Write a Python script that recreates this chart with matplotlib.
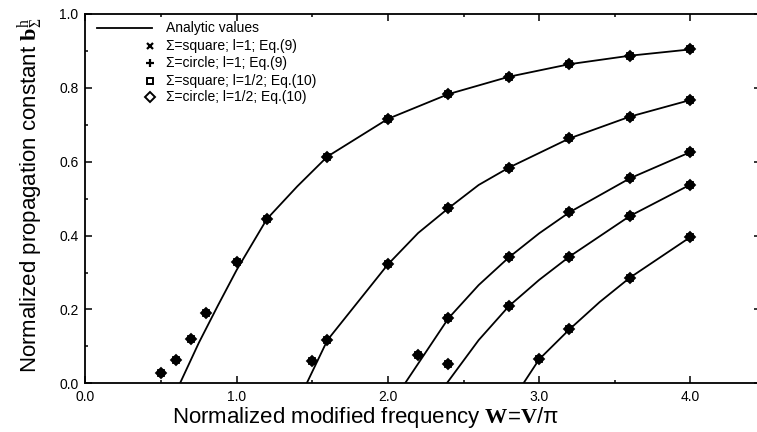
import matplotlib
matplotlib.use("Agg")
import matplotlib.pyplot as plt
from matplotlib.ticker import MultipleLocator, FormatStrFormatter

plt.rcParams['font.family'] = ['Liberation Sans', 'DejaVu Sans']
plt.rcParams['mathtext.fontset'] = 'custom'
plt.rcParams['mathtext.rm'] = 'Liberation Serif'
plt.rcParams['mathtext.bf'] = 'Liberation Serif:bold'
plt.rcParams['mathtext.it'] = 'Liberation Serif:italic'

# ---- analytic curves (W, b) ----
ana1_w = [0.625, 0.75, 0.875, 1.0, 1.2, 1.4, 1.6, 2.0, 2.4, 2.8, 3.2, 3.6, 4.0]
ana1_b = [0.0, 0.11, 0.21, 0.307, 0.445, 0.533, 0.614, 0.716, 0.783, 0.830, 0.864, 0.887, 0.904]
ana2_w = [1.463, 1.6, 2.0, 2.2, 2.4, 2.6, 2.8, 3.2, 3.6, 4.0]
ana2_b = [0.0, 0.117, 0.322, 0.407, 0.474, 0.537, 0.584, 0.663, 0.722, 0.767]
ana3_w = [2.113, 2.4, 2.6, 2.8, 3.0, 3.2, 3.6, 4.0]
ana3_b = [0.0, 0.176, 0.266, 0.341, 0.406, 0.463, 0.555, 0.626]
ana4_w = [2.389, 2.6, 2.8, 3.0, 3.2, 3.6, 4.0]
ana4_b = [0.0, 0.117, 0.209, 0.28, 0.343, 0.453, 0.538]
ana5_w = [2.896, 3.0, 3.2, 3.4, 3.6, 4.0]
ana5_b = [0.0, 0.065, 0.146, 0.22, 0.286, 0.396]

# ---- numerical values (all four methods coincide) ----
num1_w = [0.5, 0.6, 0.7, 0.8, 1.0, 1.2, 1.6, 2.0, 2.4, 2.8, 3.2, 3.6, 4.0]
num1_b = [0.027, 0.063, 0.12, 0.19, 0.328, 0.445, 0.614, 0.716, 0.783, 0.830, 0.864, 0.887, 0.904]
num2_w = [1.5, 1.6, 2.0, 2.4, 2.8, 3.2, 3.6, 4.0]
num2_b = [0.061, 0.117, 0.322, 0.474, 0.584, 0.663, 0.722, 0.767]
num3_w = [2.2, 2.4, 2.8, 3.2, 3.6, 4.0]
num3_b = [0.078, 0.176, 0.342, 0.463, 0.555, 0.626]
num4_w = [2.4, 2.8, 3.2, 3.6, 4.0]
num4_b = [0.052, 0.209, 0.343, 0.453, 0.538]
num5_w = [3.0, 3.2, 3.6, 4.0]
num5_b = [0.065, 0.146, 0.286, 0.396]

legend_labels = ["Analytic values",
                 "\u03a3=square; l=1; Eq.(9)",
                 "\u03a3=circle; l=1; Eq.(9)",
                 "\u03a3=square; l=1/2; Eq.(10)",
                 "\u03a3=circle; l=1/2; Eq.(10)"]

fig = plt.figure(figsize=(7.57, 4.32), dpi=100)
ax = fig.add_axes([0.1129, 0.1127, 0.893, 0.855])

analytic = [(ana1_w, ana1_b), (ana2_w, ana2_b), (ana3_w, ana3_b), (ana4_w, ana4_b), (ana5_w, ana5_b)]
numeric = [(num1_w, num1_b), (num2_w, num2_b), (num3_w, num3_b), (num4_w, num4_b), (num5_w, num5_b)]

for w, b in analytic:
    ax.plot(w, b, color='black', lw=1.3, zorder=2)

mk = [dict(marker='x', ms=5, mew=1.5, mfc='none'),
      dict(marker='+', ms=7, mew=1.5, mfc='none'),
      dict(marker='s', ms=5, mew=1.3, mfc='none'),
      dict(marker='D', ms=5, mew=1.3, mfc='none')]
for w, b in numeric:
    for m in mk:
        ax.plot(w, b, ls='none', color='black', mec='black', zorder=3, **m)

ax.set_xlim(0, 4.47)
ax.set_ylim(0, 1.0)
ax.xaxis.set_major_locator(MultipleLocator(1.0))
ax.xaxis.set_minor_locator(MultipleLocator(0.5))
ax.yaxis.set_major_locator(MultipleLocator(0.2))
ax.yaxis.set_minor_locator(MultipleLocator(0.1))
ax.xaxis.set_major_formatter(FormatStrFormatter('%.1f'))
ax.yaxis.set_major_formatter(FormatStrFormatter('%.1f'))
ax.tick_params(which='both', direction='in', top=True, right=True, width=1.1)
ax.tick_params(which='major', length=5, labelsize=10, pad=5)
ax.tick_params(which='minor', length=2.5)
for s in ax.spines.values():
    s.set_linewidth(1.3)

ax.set_xlabel("Normalized modified frequency $\\mathbf{W}$=$\\mathbf{V}$/\u03c0", fontsize=16)
ax.xaxis.set_label_coords(0.4135, -0.06)
ax.set_ylabel("Normalized propagation constant $\\mathbf{b}_{\\Sigma}^{\\mathrm{h}}$", fontsize=16)
ax.yaxis.set_label_coords(-0.0584, 0.508)

# legend (Origin-style)
rows = [0.962, 0.9125, 0.867, 0.819, 0.774]
tx = 0.119
ax.plot([0.0175, 0.098], [rows[0], rows[0]], color='black', lw=1.3, transform=ax.transAxes, clip_on=False)
leg_mk = [dict(marker='x', ms=4.5, mew=1.6),
          dict(marker='+', ms=6, mew=1.6),
          dict(marker='s', ms=5, mew=1.4, mfc='none'),
          dict(marker='D', ms=5.5, mew=1.4, mfc='none')]
for i, m in enumerate(leg_mk):
    ax.plot([0.0955], [rows[i + 1]], ls='none', color='black', mec='black',
            transform=ax.transAxes, clip_on=False, **m)
for i, lab in enumerate(legend_labels):
    ax.text(tx, rows[i], lab, transform=ax.transAxes, fontsize=10, va='center', ha='left')

fig.savefig("out.png", dpi=100)
